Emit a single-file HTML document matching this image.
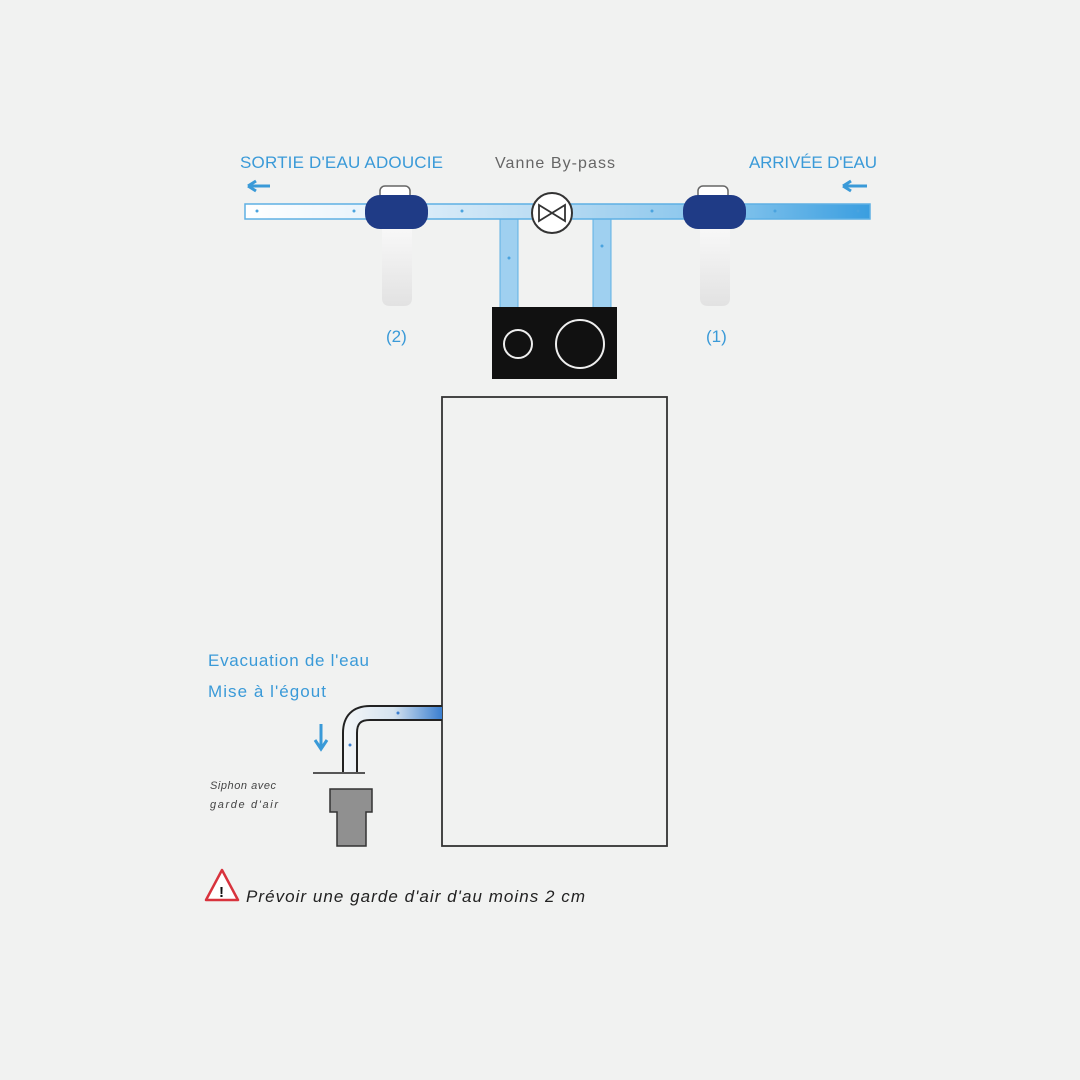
<!DOCTYPE html>
<html><head><style>
body{margin:0;background:#f1f2f1;}
svg{display:block}
text{font-family:"Liberation Sans",sans-serif}
</style></head><body>
<svg width="1080" height="1080" viewBox="0 0 1080 1080">
<defs>
<linearGradient id="pg" x1="245" x2="870" gradientUnits="userSpaceOnUse" y1="0" y2="0">
<stop offset="0" stop-color="#ffffff"/><stop offset="0.2" stop-color="#e8f3fb"/><stop offset="0.5" stop-color="#b6daf2"/><stop offset="0.8" stop-color="#7cc0eb"/><stop offset="1" stop-color="#3a9ee0"/>
</linearGradient>
<linearGradient id="dg" x1="345" x2="442" gradientUnits="userSpaceOnUse" y1="0" y2="0">
<stop offset="0" stop-color="#f4f6f8"/><stop offset="0.5" stop-color="#d5e3ef"/><stop offset="1" stop-color="#3b7fd0"/>
</linearGradient>
<linearGradient id="fb" x1="0" x2="0" y1="0" y2="1">
<stop offset="0" stop-color="#f8f8f8"/><stop offset="1" stop-color="#e2e2e2"/>
</linearGradient>
</defs>
<text x="240" y="168" font-size="17" fill="#3a9ad8" textLength="203">SORTIE D'EAU ADOUCIE</text>
<text x="495" y="168" font-size="16" fill="#666" textLength="120">Vanne By-pass</text>
<text x="749" y="168" font-size="17" fill="#3a9ad8" textLength="128">ARRIVÉE D'EAU</text>
<path d="M248 186 h22 M248 186 l8 -5 M248 186 l8 5" stroke="#3a9ad8" stroke-width="3" fill="none"/>
<path d="M843 186 h24 M843 186 l8 -5 M843 186 l8 5" stroke="#3a9ad8" stroke-width="3" fill="none"/>
<rect x="500" y="215" width="18" height="94" fill="#9fd0f0" stroke="#5eb0e4" stroke-width="1"/>
<rect x="593" y="215" width="18" height="94" fill="#9fd0f0" stroke="#5eb0e4" stroke-width="1"/>
<rect x="245" y="204" width="625" height="15" fill="url(#pg)" stroke="#5eb0e4" stroke-width="1.5"/>
<g fill="#4aa3df"><circle cx="257" cy="211" r="1.5"/><circle cx="354" cy="211" r="1.5"/><circle cx="462" cy="211" r="1.5"/><circle cx="652" cy="211" r="1.5"/><circle cx="775" cy="211" r="1.5"/><circle cx="858" cy="211" r="1.5"/><circle cx="509" cy="258" r="1.5"/><circle cx="602" cy="246" r="1.5"/></g>
<g>
<path d="M382 228 h30 v70 q0 8 -8 8 h-14 q-8 0 -8 -8z" fill="url(#fb)"/>
<rect x="380" y="186" width="30" height="14" rx="5" fill="#fff" stroke="#666" stroke-width="1.5"/>
<rect x="365" y="195" width="63" height="34" rx="15" fill="#1f3b86"/>
<path d="M700 228 h30 v70 q0 8 -8 8 h-14 q-8 0 -8 -8z" fill="url(#fb)"/>
<rect x="698" y="186" width="30" height="14" rx="5" fill="#fff" stroke="#666" stroke-width="1.5"/>
<rect x="683" y="195" width="63" height="34" rx="15" fill="#1f3b86"/>
</g>
<circle cx="552" cy="213" r="20" fill="#fff" stroke="#333" stroke-width="2"/>
<path d="M539 205 L565 221 L565 205 L539 221 Z" fill="none" stroke="#333" stroke-width="1.8"/>
<text x="386" y="342" font-size="17" fill="#3a9ad8">(2)</text>
<text x="706" y="342" font-size="17" fill="#3a9ad8">(1)</text>
<rect x="492" y="307" width="125" height="72" fill="#111"/>
<circle cx="518" cy="344" r="14" fill="none" stroke="#eee" stroke-width="2"/>
<circle cx="580" cy="344" r="24" fill="none" stroke="#eee" stroke-width="2"/>
<rect x="442" y="397" width="225" height="449" fill="none" stroke="#333" stroke-width="1.8"/>
<text x="208" y="666" font-size="17" fill="#3a9ad8" textLength="161">Evacuation de l'eau</text>
<text x="208" y="697" font-size="17" fill="#3a9ad8" textLength="118">Mise à l'égout</text>
<path d="M442 713 H370 Q350 713 350 733 V772" fill="none" stroke="#222" stroke-width="16"/>
<path d="M442 713 H370 Q350 713 350 733 V772" fill="none" stroke="url(#dg)" stroke-width="12"/>
<circle cx="398" cy="713" r="1.5" fill="#3b7fd0"/><circle cx="350" cy="745" r="1.5" fill="#3b7fd0"/>
<path d="M321 724 V748 M315 740 l6 9 l6 -9" stroke="#3a9ad8" stroke-width="3" fill="none"/>
<line x1="313" y1="773" x2="365" y2="773" stroke="#222" stroke-width="1.5"/>
<path d="M330 789 h42 v23 h-6 v34 h-29 v-34 h-7z" fill="#909090" stroke="#333" stroke-width="1.5"/>
<text x="210" y="789" font-size="11" font-style="italic" fill="#444" textLength="66">Siphon avec</text>
<text x="210" y="808" font-size="11" font-style="italic" fill="#444" textLength="68">garde d'air</text>
<path d="M222 870 L238 900 H206 Z" fill="#fff" stroke="#d8333d" stroke-width="2.5" stroke-linejoin="round"/>
<text x="219" y="897" font-size="15" font-weight="bold" fill="#111">!</text>
<text x="246" y="902" font-size="17" font-style="italic" fill="#222" textLength="339">Prévoir une garde d'air d'au moins 2 cm</text>
</svg>
</body></html>
